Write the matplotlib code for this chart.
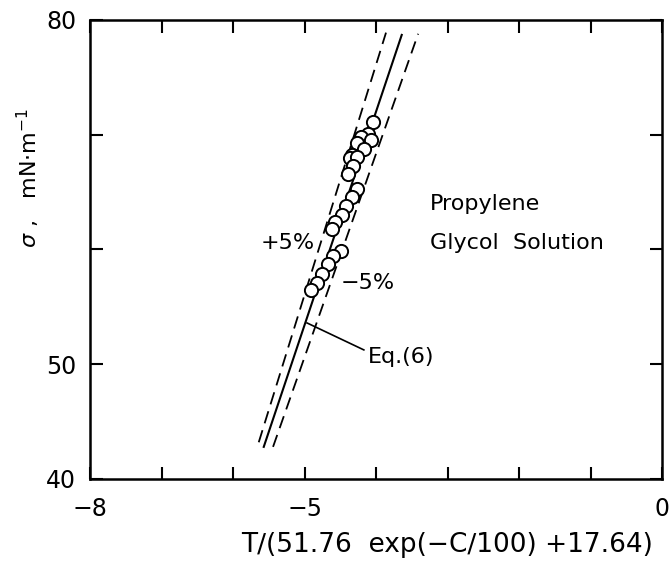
import numpy as np
import matplotlib
matplotlib.use("Agg")
import matplotlib.pyplot as plt

# measured points (x = T/(51.76 exp(-C/100)+17.64), sigma in mN/m)
pts_x = [-4.04, -4.11, -4.21, -4.07, -4.27, -4.17, -4.34, -4.37, -4.27, -4.32,
         -4.39, -4.27, -4.33, -4.42, -4.48, -4.57, -4.61, -4.49, -4.60, -4.67,
         -4.75, -4.82, -4.91]
pts_y = [71.1, 70.1, 69.8, 69.5, 69.3, 68.8, 68.2, 68.0, 68.1, 67.3,
         66.6, 65.3, 64.6, 63.8, 63.0, 62.4, 61.8, 59.9, 59.4, 58.7,
         57.9, 57.1, 56.5]

# Eq.(6) and the +/-5 % band, end points
eq_x = [-5.57, -3.64]
eq_y = [42.8, 78.7]
plus_x = [-5.64, -3.86]
plus_y = [43.2, 78.9]
minus_x = [-5.44, -3.41]
minus_y = [42.8, 78.8]

fs = 16
plt.rcParams['font.family'] = 'DejaVu Sans'

fig = plt.figure(figsize=(6.7, 5.63), dpi=100)
ax = fig.add_axes([90/670, 1-479/563, 572/670, 459/563])

ax.plot(eq_x, eq_y, color='black', lw=1.5)
ax.plot(plus_x, plus_y, color='black', lw=1.3, dashes=(7, 4))
ax.plot(minus_x, minus_y, color='black', lw=1.3, dashes=(7, 4))
ax.plot(pts_x, pts_y, 'o', ms=9.5, mfc='white', mec='black', mew=1.4)

# leader line to Eq.(6)
ax.plot([-4.965, -4.17], [53.6, 51.25], color='black', lw=1.2)
ax.text(-4.11, 50.6, 'Eq.(6)', fontsize=fs, va='center', ha='left')
ax.text(-5.23, 60.6, '+5%', fontsize=fs, va='center', ha='center')
ax.text(-4.50, 57.1, '\u22125%', fontsize=fs, va='center', ha='left')
ax.text(-3.25, 64.0, 'Propylene', fontsize=fs, va='center', ha='left')
ax.text(-3.25, 60.6, 'Glycol  Solution', fontsize=fs, va='center', ha='left')

ax.set_xlim(-8, 0)
ax.set_ylim(40, 80)
ax.set_xticks([-8, -5, 0])
ax.set_xticklabels(['\u22128', '\u22125', '0'])
ax.set_xticks([-7, -6, -4, -3, -2, -1], minor=True)
ax.set_yticks([40, 50, 80])
ax.set_yticks([60, 70], minor=True)
ax.tick_params(which='both', direction='in', top=True, right=True,
               length=9, width=1.5, labelsize=fs + 1)
ax.tick_params(axis='x', pad=13)
ax.tick_params(axis='y', pad=10)
for s in ax.spines.values():
    s.set_linewidth(1.8)

fig.text(447/670, 1-545/563, 'T\u2215(51.76  exp(\u2212C\u2215100) +17.64)',
         fontsize=19, va='center', ha='center')
fig.text(28/670, 1-178/563, r'$\sigma$ ,   mN$\cdot$m$^{-1}$', rotation=90,
         fontsize=fs, va='center', ha='center')

fig.savefig('out.png', dpi=100)
